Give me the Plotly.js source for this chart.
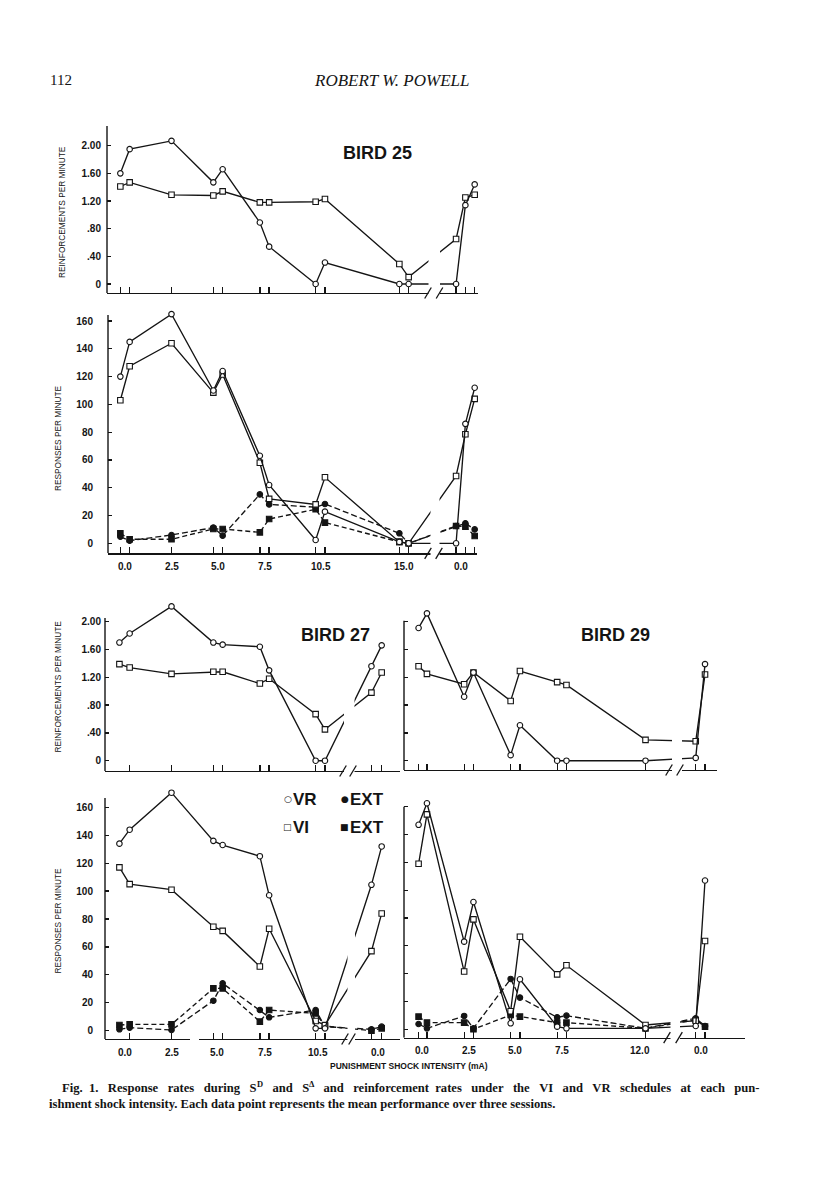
<!DOCTYPE html>
<html><head><meta charset="utf-8">
<script src="https://cdn.plot.ly/plotly-3.0.1.min.js"></script>
<style>html,body{margin:0;padding:0;background:#fff}#chart{width:816px;height:1193px}</style>
</head><body><div id="chart"></div>
<script>
// ================= DATA =================
// x = shock intensity position (mA) of each condition, two sessions per intensity; last ones = return to 0.0 mA
const b25_x = [-0.25, 0.25, 2.5, 4.75, 5.25, 7.25, 7.75, 10.25, 10.75, 14.75, 15.25, 17.8, 18.3, 18.8];
const b25_rein_VR = [1.60, 1.95, 2.07, 1.47, 1.66, 0.89, 0.54, 0, 0.31, 0, 0, 0, 1.14, 1.44];
const b25_rein_VI = [1.41, 1.47, 1.29, 1.28, 1.34, 1.18, 1.18, 1.19, 1.23, 0.29, 0.10, 0.65, 1.25, 1.29];
const b25_resp_VR = [120, 145, 165, 110, 124, 63, 42, 2.4, 22.8, 1, 0, 0, 86, 112];
const b25_resp_VI = [103, 127.5, 144, 108.5, 121.5, 58, 32, 28, 47.5, 1, 0, 48.5, 78.5, 104];
const b25_resp_EXT_VR = [4.8, 1.9, 6, 11.3, 5.5, 35.2, 28, 26, 28.3, 7.2, 0, 12.5, 14.4, 10];
const b25_resp_EXT_VI = [7.2, 2.9, 2.9, 10.3, 10.3, 7.9, 17.5, 24.5, 14.9, 1, 0, 12.5, 12, 5.3];

const b27_x = [-0.3, 0.25, 2.5, 4.75, 5.25, 7.25, 7.75, 10.25, 10.75, 13.25, 13.8];
const b27_rein_VR = [1.70, 1.83, 2.22, 1.70, 1.67, 1.64, 1.30, 0, 0, 1.36, 1.66];
const b27_rein_VI = [1.39, 1.34, 1.25, 1.28, 1.28, 1.11, 1.18, 0.67, 0.45, 0.98, 1.27];
const b27_resp_VR = [134, 144, 170.5, 136, 133, 125, 97, 1.7, 1.7, 104.5, 132];
const b27_resp_VI = [117, 105, 101, 74.5, 71.5, 46, 73, 7, 4, 57, 84];
const b27_resp_EXT_VR = [1, 2.2, 0.5, 21.5, 33.9, 14.8, 9.6, 14.8, 2.9, 1, 2.9];
const b27_resp_EXT_VI = [4.1, 4.5, 4.5, 30.3, 30.3, 6.5, 14.8, 12.4, 3.3, 0, 1.7];

const b29_x = [-0.2, 0.25, 2.25, 2.75, 4.75, 5.25, 7.25, 7.75, 12.0, 14.7, 15.2];
const b29_rein_VR = [1.91, 2.12, 0.92, 1.27, 0.08, 0.51, 0, 0, 0, 0.04, 1.39];
const b29_rein_VI = [1.36, 1.25, 1.10, 1.27, 0.86, 1.29, 1.13, 1.09, 0.30, 0.28, 1.24];
const b29_resp_VR = [147, 162.5, 63, 91.5, 4.3, 36, 1.9, 0.7, 0.7, 2.4, 107];
const b29_resp_VI = [119, 154.5, 41.5, 79, 13, 66.5, 39.5, 46, 3.1, 6.2, 63.5];
const b29_resp_EXT_VR = [3.8, 0.7, 9.6, 0.7, 36.2, 22.8, 8.6, 9.8, 0.7, 7.9, 2.4];
const b29_resp_EXT_VI = [9.1, 4.8, 4.8, 0, 10.3, 9.1, 4.8, 4.8, 0.7, 6.7, 1.9];

// tick marks (session positions) and tick labels
const b25_ticks = b25_x;
const b27_ticks = b27_x.slice(1);
const b29_ticks = b29_x;
const b25_labels = ["0.0", "2.5", "5.0", "7.5", "10.5", "15.0", "0.0"];
const b25_labelPos = [0, 2.5, 5.0, 7.55, 10.55, 15.0, 18.05];
const b27_labels = ["0.0", "2.5", "5.0", "7.5", "10.5", "0.0"];
const b27_labelPos = [0, 2.55, 4.95, 7.5, 10.4, 13.6];
const b29_labels = ["0.0", "2.5", "5.0", "7.5", "12.0", "0.0"];
const b29_labelPos = [0, 2.5, 5.0, 7.5, 11.7, 15.0];
const rein_tickvals = [0, 0.4, 0.8, 1.2, 1.6, 2.0];
const rein_ticktext = ["0", ".40", ".80", "1.20", "1.60", "2.00"];
const resp_tickvals = [0, 20, 40, 60, 80, 100, 120, 140, 160];
const resp_ticktext = ["0", "20", "40", "60", "80", "100", "120", "140", "160"];

// ================= LAYOUT HELPERS =================
const W = 816, H = 1193;
const PX = p => p / W, PY = p => 1 - p / H;
const INK = '#141414';
const ctx = document.createElement('canvas').getContext('2d');

function hasFont(name) {
  const t = 'REINFORCEMENTS PER MINUTE 0123';
  ctx.font = '20px monospace'; const a = ctx.measureText(t).width;
  ctx.font = "20px '" + name + "', monospace"; const b = ctx.measureText(t).width;
  return Math.abs(a - b) > 0.5;
}
const narrow = hasFont('Liberation Sans Narrow');
const axTitleFont = narrow ? {family: 'Liberation Sans Narrow', size: 10, color: INK} : {family: 'Liberation Sans', size: 8.3, color: INK};
const xTitleFont = narrow ? {family: 'Liberation Sans Narrow', size: 10.3, color: INK, weight: 'bold'} : {family: 'Liberation Sans', size: 8.5, color: INK, weight: 'bold'};
const tickFont = {family: 'Liberation Sans', size: 10, color: INK, weight: 'bold'};

// panel geometry in page pixels
const panels = [
  {n: 1, xL: 107, xR: 478, xz: 125, kx: 18.6, yB: 293, yT: 118, yz: 284, ky: 69.15, axTop: 126, mask: [428.5, 440], sl: [428, 439.5], tv: rein_tickvals, tt: rein_ticktext, xt: b25_ticks, so: 5},
  {n: 2, xL: 108, xR: 477, xz: 125, kx: 18.6, yB: 553.3, yT: 308, yz: 543.3, ky: 1.389, axTop: 315, mask: [430.5, 439.5], sl: [428, 439], tv: resp_tickvals, tt: resp_ticktext, xt: b25_ticks, so: 14},
  {n: 3, xL: 105, xR: 400, xz: 125, kx: 18.6, yB: 771, yT: 598, yz: 760.7, ky: 69.5, axTop: 618, mask: [344, 354.5], sl: [343, 353], tv: rein_tickvals, tt: rein_ticktext, xt: b27_ticks, so: 3},
  {n: 4, xL: 404, xR: 717, xz: 422.3, kx: 18.6, yB: 770, yT: 603, yz: 760.7, ky: 69.5, axTop: 620.7, mask: [672, 682], sl: [669, 680], tv: rein_tickvals, tt: null, xt: b29_ticks, so: 3},
  {n: 5, xL: 105, xR: 400, xz: 125, kx: 18.6, yB: 1039, yT: 786, yz: 1030.7, ky: 1.396, axTop: 798, mask: [347.5, 355], sl: [345, 352], tv: resp_tickvals, tt: resp_ticktext, xt: b27_ticks, so: 11},
  {n: 6, xL: 404, xR: 745, xz: 422.3, kx: 18.6, yB: 1037.7, yT: 796, yz: 1029.3, ky: 1.391, axTop: 806.7, mask: [670.5, 680], sl: [667, 679], tv: resp_tickvals, tt: null, xt: b29_ticks, so: 3}
];

const layout = {
  width: W, height: H, margin: {l: 0, r: 0, t: 0, b: 0},
  paper_bgcolor: '#fff', plot_bgcolor: 'rgba(0,0,0,0)',
  showlegend: false, shapes: [], annotations: []
};
const vx = (p, px) => (px - p.xz) / p.kx;
const vy = (p, py) => (p.yz - py) / p.ky;

panels.forEach(p => {
  const s = p.n === 1 ? '' : String(p.n);
  const xr = [vx(p, p.xL), vx(p, p.xR)], yr = [vy(p, p.yB), vy(p, p.yT)];
  layout['xaxis' + s] = {
    domain: [PX(p.xL), PX(p.xR)], range: xr, anchor: 'y' + s,
    showline: true, linecolor: INK, linewidth: 1.4, mirror: false,
    ticks: 'inside', ticklen: 6, tickwidth: 1.3, tickcolor: INK,
    tickmode: 'array', tickvals: p.xt, showticklabels: false,
    showgrid: false, zeroline: false, fixedrange: true
  };
  const ya = {
    domain: [PY(p.yB), PY(p.yT)], range: yr, anchor: 'x' + s,
    showline: false, ticks: 'inside', ticklen: 4, tickwidth: 1.2, tickcolor: INK,
    tickmode: 'array', tickvals: p.tv,
    showgrid: false, zeroline: false, fixedrange: true
  };
  if (p.tt) { ya.ticktext = p.tt; ya.tickfont = tickFont; ya.ticklabelstandoff = p.so; }
  else { ya.showticklabels = false; }
  layout['yaxis' + s] = ya;
  // y axis line (from x axis up to its top)
  layout.shapes.push({type: 'line', xref: 'x' + s + ' domain', yref: 'y' + s, x0: 0, x1: 0,
    y0: yr[0], y1: vy(p, p.axTop), line: {color: INK, width: 1.4}, layer: 'above'});
  // axis break: white gap + double slash
  layout.shapes.push({type: 'rect', xref: 'x' + s, yref: 'paper', x0: vx(p, p.mask[0]), x1: vx(p, p.mask[1]),
    y0: PY(p.yB + 3), y1: PY(p.yT), fillcolor: '#fff', line: {width: 0}, layer: 'above'});
  p.sl.forEach(c => layout.shapes.push({type: 'line', xref: 'paper', yref: 'paper',
    x0: PX(c - 3.3), y0: PY(p.yB + 5.5), x1: PX(c + 3.3), y1: PY(p.yB - 5.5),
    line: {color: INK, width: 1.3}, layer: 'above'}));
});
// small gap in the Bird 27 response axis line
layout.shapes.push({type: 'rect', xref: 'x5', yref: 'paper', x0: vx(panels[4], 190), x1: vx(panels[4], 199),
  y0: PY(panels[4].yB + 2), y1: PY(panels[4].yB - 1.5), fillcolor: '#fff', line: {width: 0}, layer: 'above'});

// ================= TRACES =================
const STY = {
  VR: {symbol: 'circle', fill: '#fff', dash: 'solid'},
  VI: {symbol: 'square', fill: '#fff', dash: 'solid'},
  EVR: {symbol: 'circle', fill: INK, dash: '6px,3px'},
  EVI: {symbol: 'square', fill: INK, dash: '5px,3px'}
};
function series(x, y, n, kind) {
  const s = n === 1 ? '' : String(n), st = STY[kind];
  return {type: 'scatter', mode: 'lines+markers', x: x, y: y, xaxis: 'x' + s, yaxis: 'y' + s,
    line: {color: INK, width: 1.35, dash: st.dash},
    marker: {symbol: st.symbol, size: 5.5, color: st.fill, line: {color: INK, width: 1.1}},
    cliponaxis: false, showlegend: false, hoverinfo: 'skip'};
}
const data = [
  series(b25_x, b25_rein_VI, 1, 'VI'), series(b25_x, b25_rein_VR, 1, 'VR'),
  series(b25_x, b25_resp_EXT_VI, 2, 'EVI'), series(b25_x, b25_resp_EXT_VR, 2, 'EVR'),
  series(b25_x, b25_resp_VI, 2, 'VI'), series(b25_x, b25_resp_VR, 2, 'VR'),
  series(b27_x, b27_rein_VI, 3, 'VI'), series(b27_x, b27_rein_VR, 3, 'VR'),
  series(b29_x, b29_rein_VI, 4, 'VI'), series(b29_x, b29_rein_VR, 4, 'VR'),
  series(b27_x, b27_resp_EXT_VI, 5, 'EVI'), series(b27_x, b27_resp_EXT_VR, 5, 'EVR'),
  series(b27_x, b27_resp_VI, 5, 'VI'), series(b27_x, b27_resp_VR, 5, 'VR'),
  series(b29_x, b29_resp_EXT_VI, 6, 'EVI'), series(b29_x, b29_resp_EXT_VR, 6, 'EVR'),
  series(b29_x, b29_resp_VI, 6, 'VI'), series(b29_x, b29_resp_VR, 6, 'VR')
];

// ================= TEXT =================
const A = layout.annotations;
function txt(text, x, y, font, opt) {
  A.push(Object.assign({text: text, xref: 'paper', yref: 'paper', x: PX(x), y: PY(y),
    xanchor: 'center', yanchor: 'middle', showarrow: false, font: font}, opt || {}));
}
// x tick labels under response panels
[[2, b25_labels, b25_labelPos], [5, b27_labels, b27_labelPos], [6, b29_labels, b29_labelPos]].forEach(([n, lab, pos]) => {
  const p = panels[n - 1];
  lab.forEach((t, i) => A.push({text: t, xref: 'x' + n, yref: 'paper', x: pos[i], y: PY(p.yB + 13),
    xanchor: 'center', yanchor: 'middle', showarrow: false, font: tickFont}));
});
// y axis titles
txt('REINFORCEMENTS PER MINUTE', 62, 212, axTitleFont, {textangle: -90});
txt('RESPONSES PER MINUTE', 58, 438, axTitleFont, {textangle: -90});
txt('REINFORCEMENTS PER MINUTE', 57.5, 687, axTitleFont, {textangle: -90});
txt('RESPONSES PER MINUTE', 57.5, 921, axTitleFont, {textangle: -90});
// bird labels
const birdFont = {family: 'Liberation Sans', size: 18, color: INK, weight: 'bold'};
txt('BIRD 25', 377, 153, birdFont);
txt('BIRD 27', 335, 635, birdFont);
txt('BIRD 29', 615, 635, birdFont);
// legend (inside Bird 27 responses)
const legFont = {family: 'Liberation Sans', size: 17, color: INK, weight: 'bold'};
const symFont = {family: 'DejaVu Sans', size: 9, color: INK, weight: 'bold'};
txt('○', 287.5, 798.5, symFont);
txt('VR', 291, 799, legFont, {xanchor: 'left'});
txt('●', 344.5, 798.5, symFont);
txt('EXT', 348, 799, legFont, {xanchor: 'left'});
txt('□', 287.5, 826.5, symFont);
txt('VI', 291, 827, legFont, {xanchor: 'left'});
txt('■', 344.5, 826.5, symFont);
txt('EXT', 348, 827, legFont, {xanchor: 'left'});
// x axis title
txt('PUNISHMENT SHOCK INTENSITY (mA)', 409, 1066, xTitleFont);
// running head
const serif = {family: 'Liberation Serif', size: 15, color: INK};
txt('112', 48, 80, serif, {xanchor: 'left'});
txt('ROBERT W. POWELL', 391, 80, {family: 'Liberation Serif', size: 17, color: INK, style: 'italic'});

// caption: first line justified (extra word spacing), superscripts as raised small text
const CAP = 12.6, SUP = 8.5;
const capFont = {family: 'Liberation Serif', size: CAP, color: INK, weight: 'bold'};
const supFont = {family: 'Liberation Serif', size: SUP, color: INK, weight: 'bold'};
const capSegs = [
  ['Fig. 1. Response rates during S', false], ['D', true], [' and S', false], ['Δ', true],
  [' and reinforcement rates under the VI and VR schedules at each pun-', false]
];
const capLine2 = 'ishment shock intensity. Each data point represents the mean performance over three sessions.';
function measure(t, size) { ctx.font = 'bold ' + size + 'px "Liberation Serif"'; return ctx.measureText(t).width; }
const capTarget = 698;   // justified line length in px
const NB = '\u00a0';
const plain = capSegs.map(s => s[0]).join('');
const gaps = (plain.match(/ /g) || []).length;
const naturalW = capSegs.reduce((w, s) => w + measure(s[0], s[1] ? SUP : CAP), 0);
const spaceW = measure(NB, CAP);
const totalExtra = Math.max(0, Math.round((capTarget - naturalW) / spaceW));
let gapIdx = 0;
let cx = 60;
capSegs.forEach(([t, sup]) => {
  let s = t;
  if (!sup) {
    s = t.replace(/ /g, () => {
      const k = Math.floor((gapIdx + 1) * totalExtra / gaps) - Math.floor(gapIdx * totalExtra / gaps);
      gapIdx++;
      return NB.repeat(1 + k);
    });
  }
  const w = measure(s, sup ? SUP : CAP);
  txt(s, cx, sup ? 1083.5 : 1088, sup ? supFont : capFont, {xanchor: 'left'});
  cx += w;
});
txt(capLine2, 47, 1104, capFont, {xanchor: 'left'});

Plotly.newPlot('chart', data, layout, {staticPlot: true, displayModeBar: false});
</script>
</body></html>
